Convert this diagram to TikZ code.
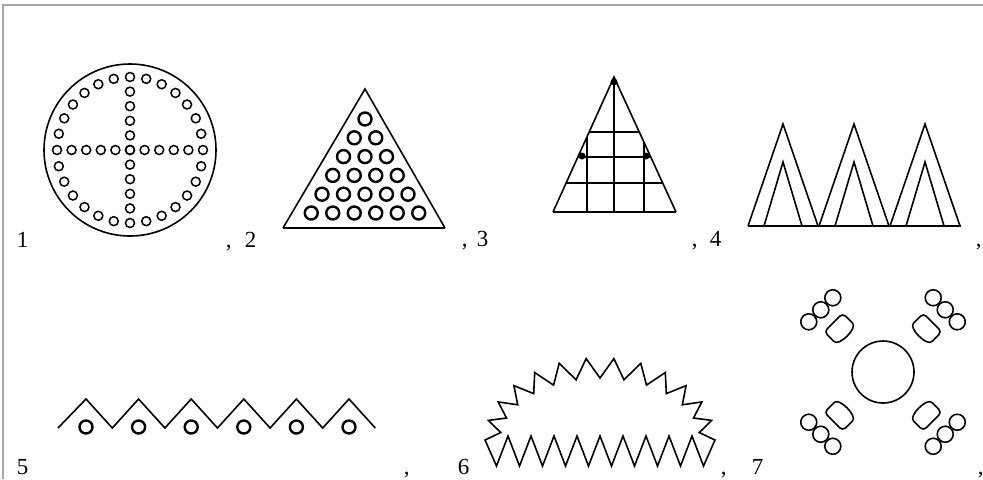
\documentclass[tikz,border=0pt]{standalone}
\usepackage{fontspec}
\setmainfont{Liberation Serif}

\tikzset{
	lab/.style = {anchor=base west, inner sep=0pt, font=\fontsize{11.5}{13}\selectfont},
	hole/.style = {line width=0.75pt},
	bead/.style = {line width=1.2pt},
	frame/.style = {black!35, line width=1pt}
}

\begin{document}
\begin{tikzpicture}[x=0.5pt, y=-0.5pt, line width=0.8pt]
\useasboundingbox (0,0) rectangle (983,479);
%
	\draw[frame] (3,479) -- (3,5) -- (983,5);
%
	% 1: disc with holes
	\draw (130,150) circle (86);
	\foreach \k in {0,...,27}
		\draw[hole] (130,150) ++({\k*360/28}:73) circle (4.5);
	\foreach \k in {-4,...,4} {
		\draw[hole] ({130+\k*14.6},150) circle (4.5);
		\draw[hole] (130,{150+\k*14.6}) circle (4.5);
	}
%
	% 2: triangle of beads
	\draw (283,228) -- (365,89) -- (445,228);
	\draw[line width=1.2pt] (283,228) -- (445,228);
	\foreach \i in {0,...,5}
		\foreach \j in {0,...,\i}
			\draw[bead] ({365+(\j-\i/2)*21.5},{119+\i*18.8}) circle (6.5);
%
	% 3: triangle with grid
	\draw (553,212) -- (614,77) -- (676,212);
	\draw[line width=1.3pt] (553,212) -- (676,212);
	\begin{scope}[line width=1pt]
		\clip (553,212) -- (614,77) -- (676,212) -- cycle;
		\foreach \y in {132,157,183} \draw (540,\y) -- (690,\y);
		\foreach \x in {587,614,644} \draw (\x,70) -- (\x,215);
	\end{scope}
	\fill (614,82) circle (3.5);
	\fill (582,156) circle (3.5);
	\fill (646,156) circle (3.5);
%
	% 4: three double peaks
	\draw[line width=1pt] (748,226) -- (961,226);
	\foreach \dx in {0,71,142} {
		\draw (748+\dx,226) -- (783+\dx,124) -- (818+\dx,226);
		\draw (764+\dx,226) -- (783+\dx,162) -- (802+\dx,226);
	}
%
	% 5: zigzag with beads
	\draw (58,428) \foreach \k in {0,...,5} { -- ({86+\k*52.6},399) -- ({112.3+\k*52.6},428) };
	\foreach \k in {0,...,5}
		\draw[bead] ({86+\k*52.6},427) circle (6.5);
%
	% 6: spiky half oval
	\draw (485,440)
		\foreach \i in {1,...,26} { -- ({600+(115-15*mod(\i,2))*cos(180-\i*180/26)},{440-(82-20*mod(\i,2))*sin(180-\i*180/26)}) }
		\foreach \i in {1,...,19} { -- ({715-\i*11.5},{436+30*mod(\i,2)}) }
		-- cycle;
%
	% 7: circle with four groups
	\draw (883,372) circle (31);
	\foreach \a in {45,135,225,315} {
		\begin{scope}[shift={(883,372)}, rotate=\a]
			\foreach \v in {-17,0,17} \draw (88,\v) circle (8);
			\draw[rounded corners=2pt] (70,-13) -- (70,13) -- (60,13) .. controls (49,13) and (49,-13) .. (60,-13) -- cycle;
		\end{scope}
	}
%
	% labels
	\node[lab] (n1) at (16,247) {1};
	\node[lab] (c1) at (225,247) {,};
	\node[lab] (n2) at (244,247) {2};
	\node[lab] (c2) at (461,246) {,};
	\node[lab] (n3) at (476,246) {3};
	\node[lab] (c3) at (691,246) {,};
	\node[lab] (n4) at (709,246) {4};
	\node[lab] (c4) at (975,246) {,};
	\node[lab] (n5) at (16,474) {5};
	\node[lab] (c5) at (403,474) {,};
	\node[lab] (n6) at (457,474) {6};
	\node[lab] (c6) at (720,474) {,};
	\node[lab] (n7) at (751,474) {7};
	\node[lab] (c7) at (977,474) {,};
%
\end{tikzpicture}
\end{document}
